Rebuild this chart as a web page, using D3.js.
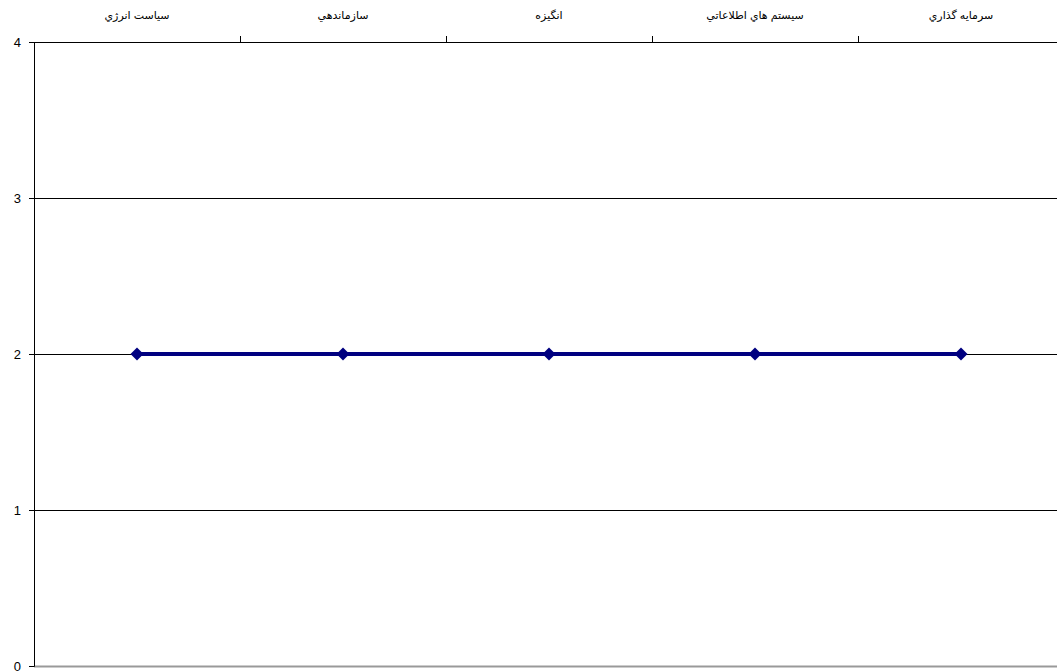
<!doctype html>
<html lang="fa">
<head>
  <meta charset="utf-8">
  <title>Chart</title>
  <script src="https://cdnjs.cloudflare.com/ajax/libs/d3/7.8.5/d3.min.js"></script>
  <style>
    body { margin: 0; background: #fff; }
    text { font-family: "Liberation Sans", "DejaVu Sans", Arial, sans-serif; }
  </style>
</head>
<body>
<div id="chart"></div>
<script>
// data
var categories = ["سياست انرژي", "سازماندهي", "انگيزه", "سيستم هاي اطلاعاتي", "سرمايه گذاري"];
var values = [2, 2, 2, 2, 2];
var yTicks = [0, 1, 2, 3, 4];

var W = 1057, H = 672;
var margin = {top: 42, left: 34, bottom: 6};
var step = 206;

var svg = d3.select("#chart")
  .append("svg")
    .attr("width", W)
    .attr("height", H);

var x = d3.scaleBand()
  .domain(categories)
  .range([margin.left, margin.left + step * categories.length]);

var y = d3.scaleLinear()
  .domain([0, 4])
  .range([H - margin.bottom, margin.top]);

// gridlines
svg.append("g")
  .selectAll("line")
  .data(yTicks.filter(function(d) { return d > 0; }))
  .enter()
  .append("line")
    .attr("x1", margin.left)
    .attr("x2", W)
    .attr("y1", function(d) { return y(d); })
    .attr("y2", function(d) { return y(d); })
    .attr("stroke", "#000")
    .attr("stroke-width", 1)
    .attr("shape-rendering", "crispEdges");

// bottom border of plot
svg.append("line")
  .attr("x1", margin.left)
  .attr("x2", W)
  .attr("y1", y(0) + 0.5)
  .attr("y2", y(0) + 0.5)
  .attr("stroke", "#999")
  .attr("stroke-width", 2);

// y axis
var yAxis = svg.append("g")
  .attr("transform", "translate(" + margin.left + ",0)")
  .call(d3.axisLeft(y).tickValues(yTicks).tickSize(5).tickPadding(8).tickFormat(d3.format("d")));
yAxis.select(".domain").attr("stroke", "#000");
yAxis.selectAll("text").style("font-size", "13px").attr("fill", "#000");
yAxis.selectAll("line").attr("stroke", "#000");

// top category axis
var xAxis = svg.append("g")
  .attr("transform", "translate(0," + margin.top + ")")
  .call(d3.axisTop(x).tickSize(0).tickPadding(23).tickSizeOuter(0));
xAxis.select(".domain").attr("stroke", "#000");
xAxis.selectAll("text").style("font-size", "11px").attr("fill", "#000");

// separators between categories
xAxis.append("g")
  .selectAll("line")
  .data(categories.slice(1))
  .enter()
  .append("line")
    .attr("x1", function(d) { return Math.round(x(d)) + 0.5; })
    .attr("x2", function(d) { return Math.round(x(d)) + 0.5; })
    .attr("y1", -6)
    .attr("y2", 0)
    .attr("stroke", "#000");

// series line
var line = d3.line()
  .x(function(d, i) { return x(categories[i]) + x.bandwidth() / 2; })
  .y(function(d) { return y(d); });

svg.append("path")
  .datum(values)
  .attr("d", line)
  .attr("fill", "none")
  .attr("stroke", "#000080")
  .attr("stroke-width", 4);

// markers
svg.append("g")
  .selectAll("path")
  .data(values)
  .enter()
  .append("path")
    .attr("transform", function(d, i) {
      return "translate(" + (x(categories[i]) + x.bandwidth() / 2) + "," + y(d) + ")";
    })
    .attr("d", "M0,-6.5L6.5,0L0,6.5L-6.5,0Z")
    .attr("fill", "#000080");
</script>
</body>
</html>
